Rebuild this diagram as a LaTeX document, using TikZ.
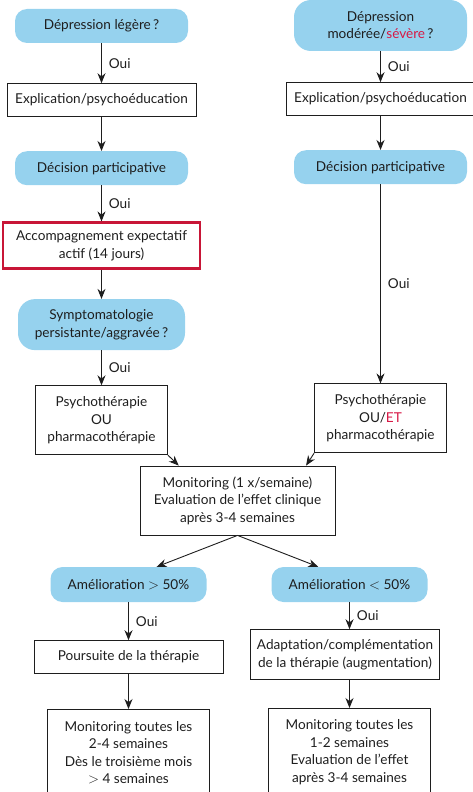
\documentclass[tikz,border=0pt]{standalone}
\usepackage{fontspec}
\setmainfont{Lato}
\usetikzlibrary{arrows.meta,positioning,calc}
\definecolor{skyfill}{RGB}{150,210,238}
\definecolor{frameRed}{RGB}{200,22,55}
\definecolor{accentRed}{RGB}{215,25,70}
\definecolor{inkgray}{RGB}{30,30,30}

\begin{document}
\begin{tikzpicture}[
    x=1pt, y=1pt,
    font=\fontsize{13.6}{17.5}\selectfont,
    query/.style={fill=skyfill, rounded corners=12pt, align=center, minimum width=173pt, minimum height=34pt, inner sep=2pt, text=inkgray},
    plainbox/.style={draw=inkgray, line width=0.8pt, align=center, minimum height=33pt, inner sep=2pt, text=inkgray},
    alertbox/.style={draw=frameRed, line width=2.5pt, align=center, inner sep=2pt, text=inkgray},
    flow/.style={draw=inkgray, line width=0.9pt, -{Stealth[length=10pt,width=8pt]}},
    oui/.style={midway, right=6pt, inner sep=1pt, text=inkgray}
  ]
  \useasboundingbox (0,0) rectangle (473,-792);

  % mild depression branch
  \node[query] (legere) at (101.5,-26) {Dépression légère\,?};
  \node[plainbox, minimum width=189pt, below=40pt of legere] (explL) {Explication/psychoéducation};
  \node[query, below=34pt of explL] (decL) {Décision participative};
  \node[alertbox, minimum width=197pt, minimum height=46pt, below=36pt of decL] (accomp) {Accompagnement expectatif\\actif (14 jours)};
  \node[query, minimum width=167pt, minimum height=51pt, rounded corners=17pt, below=29pt of accomp] (sympt) {Symptomatologie\\persistante/aggravée\,?};
  \node[plainbox, minimum width=132pt, minimum height=69pt, below=35pt of sympt] (psyL) {Psychothérapie\\OU\\pharmacothérapie};

  % moderate / severe branch
  \node[query, minimum height=51pt, rounded corners=17pt] (moderee) at (380.5,-25.5) {Dépression\\modérée/\textcolor{accentRed}{sévère}\,?};
  \node[plainbox, minimum width=189pt, below=31pt of moderee] (explR) {Explication/psychoéducation};
  \node[query, below=34pt of explR] (decR) {Décision participative};
  \node[plainbox, minimum width=132pt, minimum height=69pt, below=199pt of decR] (psyR) {Psychothérapie\\OU/\textcolor{accentRed}{ET}\\pharmacothérapie};

  % common follow-up
  \node[plainbox, minimum width=195pt, minimum height=69pt] (monit) at (237.5,-500.5) {Monitoring (1 x/semaine)\\Evaluation de l’effet clinique\\après 3-4 semaines};
  \node[query, minimum width=156pt, minimum height=35pt] (betterP) at (128.5,-584.5) {Amélioration $>$ 50\%};
  \node[query, minimum width=156pt, minimum height=35pt] (betterM) at (349.5,-584.5) {Amélioration $<$ 50\%};
  \node[plainbox, minimum width=189pt, below=38pt of betterP] (poursuite) {Poursuite de la thérapie};
  \node[plainbox, minimum width=189pt, minimum height=50pt, below=27pt of betterM, xshift=-4.5pt] (adapt) {Adaptation/complémentation\\de la thérapie (augmentation)};
  \node[plainbox, minimum width=162pt, minimum height=87pt, below=35pt of poursuite] (monitP) {Monitoring toutes les\\2-4 semaines\\Dès le troisième mois\\$>$ 4 semaines};
  \node[plainbox, minimum width=162pt, minimum height=87pt, below=28pt of adapt, xshift=4.5pt] (monitM) {Monitoring toutes les\\1-2 semaines\\Evaluation de l’effet\\après 3-4 semaines};

  \draw[flow] (legere) -- node[oui]{Oui} (explL);
  \draw[flow] (explL) -- (decL);
  \draw[flow] (decL) -- node[oui]{Oui} (accomp);
  \draw[flow] (accomp) -- (sympt);
  \draw[flow] (sympt) -- node[oui]{Oui} (psyL);

  \draw[flow] (moderee) -- node[oui]{Oui} (explR);
  \draw[flow] (explR) -- (decR);
  \draw[flow] (decR) -- node[oui]{Oui} (psyR);

  \draw[flow] (psyL.south east) -- ($(monit.north west)!0.2!(monit.north east)$);
  \draw[flow] (psyR.south west) -- ($(monit.north west)!0.85!(monit.north east)$);
  \draw[flow] (monit.south) -- ($(betterP.north west)!0.68!(betterP.north east)$);
  \draw[flow] (monit.south) -- ($(betterM.north west)!0.3!(betterM.north east)$);

  \draw[flow] (betterP) -- node[oui]{Oui} (poursuite);
  \draw[flow] (poursuite) -- (monitP);
  \draw[flow] (betterM.south) -- node[oui]{Oui} (betterM.south |- adapt.north);
  \draw[flow] (adapt.south -| monitM.north) -- (monitM.north);
\end{tikzpicture}
\end{document}
